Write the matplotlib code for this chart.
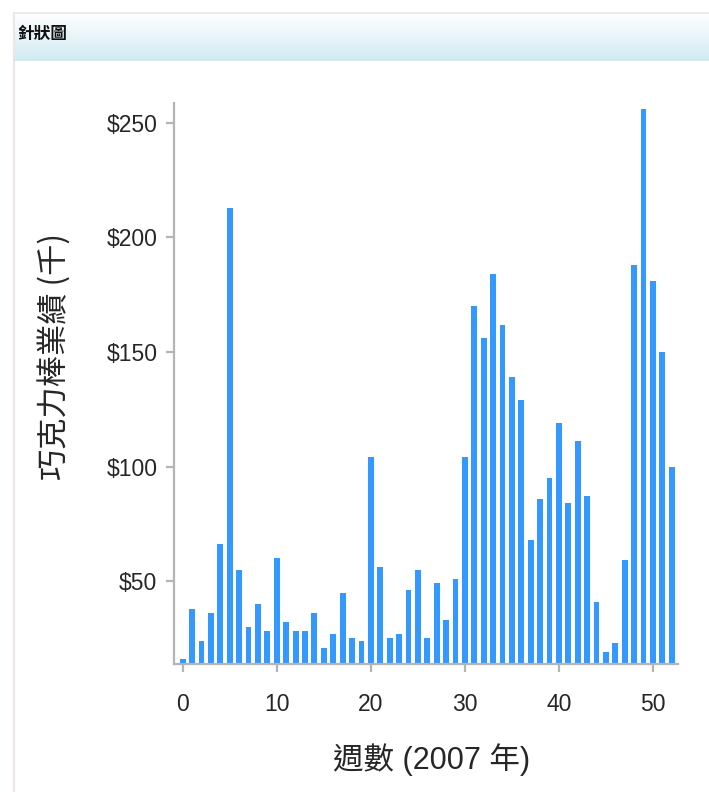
import matplotlib
matplotlib.use('Agg')
import matplotlib.pyplot as plt
import numpy as np
from matplotlib.lines import Line2D
from matplotlib.ticker import FuncFormatter

plt.rcParams['font.family'] = ['Liberation Sans', 'Noto Sans CJK TC']

title = '針狀圖'
x_label = '週數 (2007 年)'
y_label = '巧克力棒業績 (千)'

weeks = list(range(53))
sales = [16, 38, 24, 36, 66, 213, 55, 30, 40, 28,
         60, 32, 28, 28, 36, 21, 27, 45, 25, 24,
         104, 56, 25, 27, 46, 55, 25, 49, 33, 51,
         104, 170, 156, 184, 162, 139, 129, 68, 86, 95,
         119, 84, 111, 87, 41, 19, 23, 59, 188, 256,
         181, 150, 100]
x_ticks = [0, 10, 20, 30, 40, 50]
y_ticks = [50, 100, 150, 200, 250]

W, H = 709, 792
fig = plt.figure(figsize=(W / 100, H / 100), dpi=100)
fig.patch.set_facecolor('white')

# header band with a white to pale blue gradient
hdr = fig.add_axes([14 / W, 1 - 60 / H, 1 - 14 / W, 47 / H])
grad = np.linspace(0, 1, 100).reshape(-1, 1)
top = np.array([1.0, 1.0, 1.0])
bot = np.array([0.82, 0.92, 0.95])
img = top + (bot - top) * grad[..., None]
hdr.imshow(img, aspect='auto', extent=[0, 1, 0, 1])
hdr.set_axis_off()
fig.text(17 / W, 1 - 34 / H, title, family='Noto Sans CJK TC', fontsize=12,
         fontweight='bold', color='#111111', va='center', ha='left')

# faint frame lines
fig.add_artist(Line2D([14 / W, 1], [1 - 13 / H, 1 - 13 / H],
                      color='#ece6ea', lw=1.2, transform=fig.transFigure))
fig.add_artist(Line2D([14 / W, 14 / W], [0, 1 - 13 / H],
                      color='#ece6ea', lw=1.5, transform=fig.transFigure))
fig.add_artist(Line2D([14 / W, 1], [1 - 60 / H, 1 - 60 / H],
                      color='#cfe6ee', lw=1.2, transform=fig.transFigure))

ax = fig.add_axes([174 / W, 1 - 664 / H, 504 / W, 561 / H])
ax.bar(weeks, sales, width=0.62, color='#3399ff', edgecolor='none')

ax.set_xlim(-0.93, 52.66)
ax.set_ylim(13.8, 258.7)
ax.set_xticks(x_ticks)
ax.set_yticks(y_ticks)
ax.yaxis.set_major_formatter(FuncFormatter(lambda v, p: '$%d' % v))

for side in ['top', 'right']:
    ax.spines[side].set_visible(False)
for side in ['left', 'bottom']:
    ax.spines[side].set_color('#b4b4b4')
    ax.spines[side].set_linewidth(1.6)

ax.tick_params(axis='both', colors='#b4b4b4', width=1.6, length=6,
               labelcolor='#262626', labelsize=16.5)
ax.tick_params(axis='y', pad=6)
ax.tick_params(axis='x', pad=15)

ax.set_xlabel(x_label, fontsize=22, color='#262626', va='center')
ax.xaxis.set_label_coords((432 - 174) / 504, (664 - 760) / 561)
ax.set_ylabel(y_label, fontsize=22.5, color='#262626', va='center',
              family=['Noto Sans CJK TC', 'Liberation Sans'])
ax.yaxis.set_label_coords((55 - 174) / 504, (664 - 357) / 561)

fig.savefig('out.png', dpi=100)
